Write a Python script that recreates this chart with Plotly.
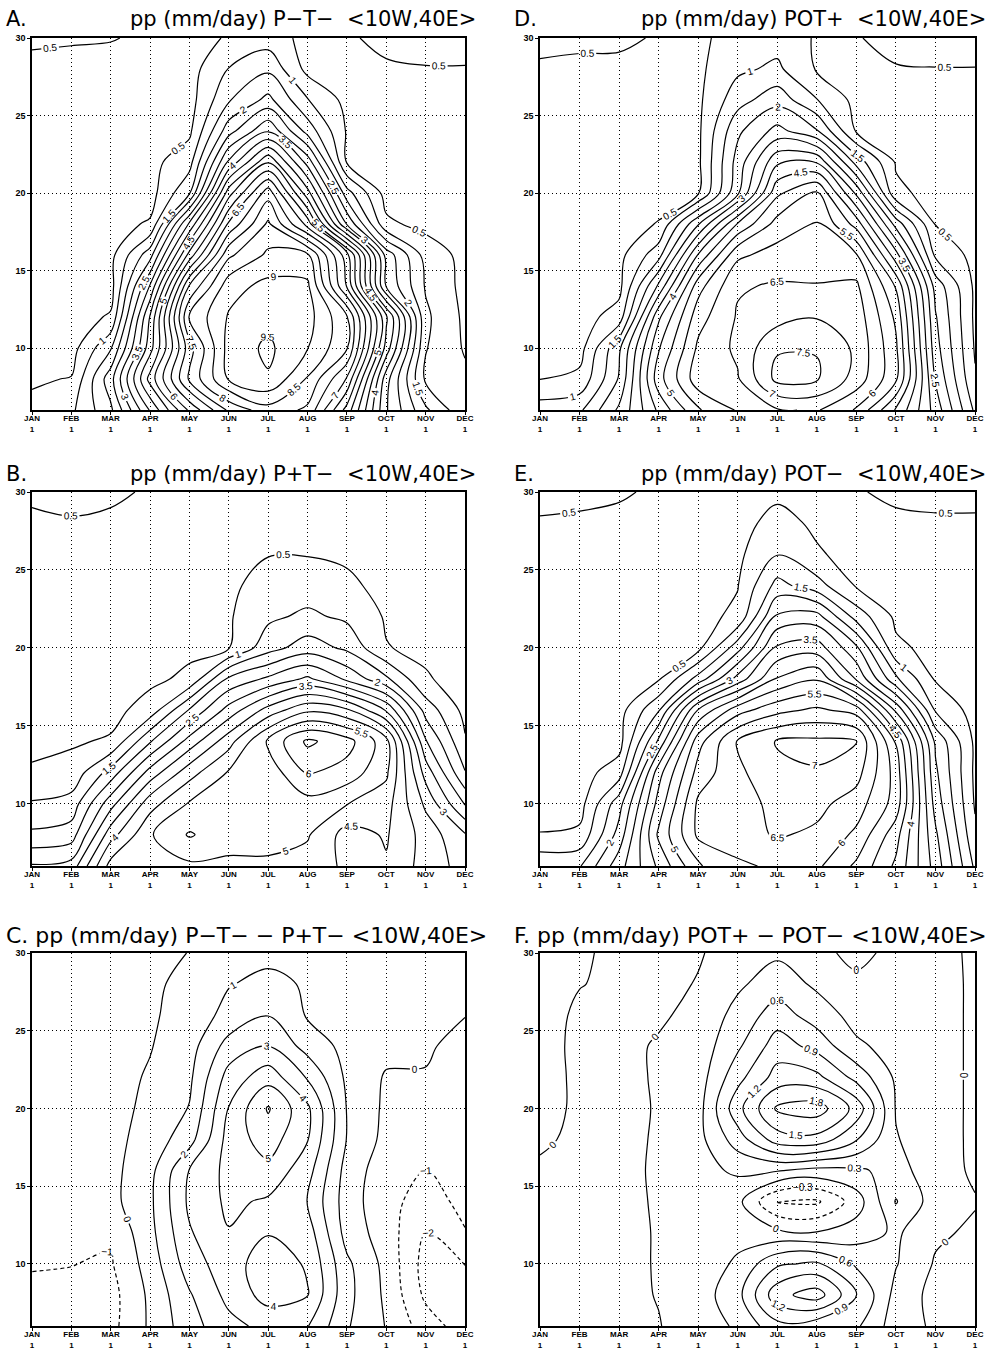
import plotly.graph_objects as go

# ---------------- data ----------------
months = ["JAN", "FEB", "MAR", "APR", "MAY", "JUN", "JUL", "AUG", "SEP", "OCT", "NOV", "DEC"]
month_pos = list(range(12))
lats = [30, 28, 26, 24, 22, 20, 18, 16, 14, 12, 10, 8, 6]   # rows listed north -> south
ytick_vals = [10, 15, 20, 25, 30]

# A. pp (mm/day) P-T-
pp_A = [
    [0.55, 0.55, 0.53, 0.40, 0.30, 0.55, 0.75, 0.35, 0.45, 0.60, 0.65, 0.65],
    [0.42, 0.35, 0.30, 0.30, 0.30, 1.02, 1.40, 0.35, 0.30, 0.45, 0.48, 0.48],
    [0.35, 0.30, 0.30, 0.30, 0.30, 1.45, 2.15, 1.03, 0.35, 0.35, 0.38, 0.40],
    [0.30, 0.30, 0.30, 0.30, 0.40, 2.30, 3.45, 1.80, 0.45, 0.35, 0.35, 0.38],
    [0.30, 0.30, 0.30, 0.35, 0.80, 3.60, 5.45, 3.30, 0.45, 0.35, 0.35, 0.35],
    [0.30, 0.30, 0.30, 0.30, 1.45, 5.30, 7.30, 4.70, 1.70, 0.30, 0.30, 0.30],
    [0.30, 0.30, 0.35, 0.55, 3.60, 6.60, 8.10, 6.30, 2.95, 0.60, 0.35, 0.30],
    [0.30, 0.30, 0.35, 1.80, 5.20, 7.90, 8.60, 8.60, 6.20, 2.30, 0.80, 0.35],
    [0.30, 0.30, 0.30, 3.05, 7.05, 8.80, 9.15, 9.10, 6.45, 2.45, 0.95, 0.35],
    [0.30, 0.30, 0.55, 4.05, 8.05, 9.05, 9.35, 9.20, 8.05, 4.60, 1.10, 0.40],
    [0.35, 0.30, 1.45, 4.30, 7.30, 9.20, 9.60, 9.02, 8.05, 4.30, 1.03, 0.45],
    [0.45, 0.52, 2.30, 5.20, 7.60, 9.05, 9.45, 8.45, 6.95, 3.20, 0.90, 0.60],
    [0.60, 0.90, 1.90, 4.05, 6.10, 7.60, 8.30, 7.90, 5.80, 3.05, 1.60, 0.60],
]

# B. pp (mm/day) P+T-
pp_B = [
    [0.55, 0.60, 0.58, 0.45, 0.40, 0.35, 0.30, 0.30, 0.30, 0.30, 0.30, 0.30],
    [0.45, 0.47, 0.42, 0.35, 0.35, 0.35, 0.35, 0.35, 0.35, 0.30, 0.30, 0.30],
    [0.35, 0.35, 0.35, 0.35, 0.35, 0.40, 0.48, 0.48, 0.42, 0.30, 0.30, 0.30],
    [0.30, 0.30, 0.30, 0.30, 0.35, 0.40, 0.70, 0.75, 0.60, 0.35, 0.30, 0.30],
    [0.30, 0.30, 0.30, 0.30, 0.35, 0.45, 0.90, 1.10, 0.90, 0.45, 0.30, 0.30],
    [0.30, 0.30, 0.30, 0.35, 0.40, 0.48, 1.30, 1.75, 1.40, 0.52, 0.40, 0.30],
    [0.30, 0.30, 0.30, 0.40, 0.60, 2.10, 2.60, 3.10, 2.40, 1.60, 0.55, 0.30],
    [0.30, 0.30, 0.35, 0.70, 2.05, 3.20, 4.20, 4.90, 4.60, 3.45, 1.30, 0.35],
    [0.40, 0.45, 0.55, 1.95, 3.20, 4.30, 5.60, 6.60, 6.20, 5.20, 2.05, 0.55],
    [0.55, 0.65, 1.70, 3.20, 4.30, 5.05, 5.20, 6.05, 5.80, 5.10, 2.80, 1.03],
    [1.05, 1.20, 2.80, 4.30, 5.05, 5.10, 5.10, 5.30, 5.02, 4.70, 3.40, 1.95],
    [1.60, 1.75, 3.80, 4.95, 5.55, 5.20, 5.10, 5.05, 4.30, 4.55, 3.80, 3.05],
    [2.55, 2.70, 4.70, 4.60, 4.90, 4.90, 4.95, 4.80, 4.40, 4.45, 3.80, 3.30],
]

# C. pp (mm/day) P-T- - P+T-
pp_C = [
    [-0.30, -0.30, -0.30, -0.25, 0.02, 0.50, 0.75, 0.60, 0.50, 0.40, 0.30, 0.20],
    [-0.30, -0.30, -0.30, -0.20, 0.30, 0.95, 1.25, 0.90, 0.60, 0.40, 0.30, 0.15],
    [-0.35, -0.35, -0.35, -0.15, 0.45, 1.30, 1.97, 0.90, 0.60, 0.35, 0.20, 0.02],
    [-0.40, -0.40, -0.40, -0.05, 0.60, 2.40, 3.05, 1.60, 0.70, 0.30, 0.10, -0.25],
    [-0.45, -0.40, -0.35, 0.10, 0.80, 3.40, 4.60, 2.90, 0.80, -0.10, -0.05, -0.35],
    [-0.50, -0.45, -0.30, 0.20, 1.05, 4.05, 6.10, 4.20, 0.95, -0.20, -0.40, -0.40],
    [-0.50, -0.50, -0.30, 0.40, 1.60, 4.40, 5.50, 4.05, 0.95, -0.30, -0.70, -0.50],
    [-0.60, -0.60, -0.30, 0.70, 3.05, 4.30, 4.70, 3.40, 0.60, -0.60, -1.03, -0.60],
    [-0.70, -0.70, -0.30, 0.80, 3.20, 4.20, 3.85, 2.95, 0.50, -0.70, -1.40, -0.75],
    [-0.80, -0.80, -0.85, 0.70, 2.90, 3.95, 3.95, 3.50, 0.60, -0.50, -2.05, -1.05],
    [-0.95, -0.98, -1.10, 0.45, 2.50, 3.60, 4.50, 3.90, 1.20, -0.30, -2.40, -1.98],
    [-1.15, -1.20, -1.35, 0.20, 1.90, 3.30, 4.40, 4.05, 1.30, -0.20, -2.20, -2.40],
    [-1.30, -1.40, -1.30, 0.15, 1.60, 2.70, 3.30, 3.05, 1.10, -0.05, -1.50, -2.50],
]

# D. pp (mm/day) POT+
pp_D = [
    [0.60, 0.58, 0.60, 0.45, 0.45, 0.60, 0.80, 0.45, 0.48, 0.60, 0.65, 0.65],
    [0.45, 0.42, 0.38, 0.30, 0.40, 0.90, 1.10, 0.45, 0.35, 0.48, 0.49, 0.49],
    [0.38, 0.35, 0.30, 0.30, 0.40, 1.30, 1.81, 1.02, 0.35, 0.35, 0.38, 0.40],
    [0.30, 0.30, 0.30, 0.30, 0.40, 1.90, 2.67, 2.05, 0.45, 0.35, 0.35, 0.35],
    [0.30, 0.30, 0.30, 0.35, 0.40, 2.20, 3.90, 3.95, 1.80, 0.45, 0.35, 0.35],
    [0.30, 0.30, 0.30, 0.35, 0.45, 2.40, 4.90, 5.55, 3.40, 0.60, 0.35, 0.30],
    [0.30, 0.30, 0.35, 0.52, 2.45, 4.55, 5.70, 6.05, 4.80, 2.30, 0.48, 0.30],
    [0.30, 0.30, 0.35, 1.30, 4.05, 5.90, 6.20, 6.30, 6.05, 3.70, 0.90, 0.35],
    [0.30, 0.30, 0.35, 2.60, 5.30, 6.45, 6.55, 6.52, 6.60, 4.95, 1.80, 0.40],
    [0.30, 0.30, 0.70, 3.90, 5.80, 6.55, 6.80, 6.97, 6.80, 5.40, 2.05, 0.40],
    [0.30, 0.30, 1.90, 4.45, 6.10, 6.60, 7.45, 7.48, 6.90, 5.60, 2.20, 0.45],
    [0.49, 0.62, 2.05, 4.80, 6.30, 6.45, 7.65, 7.55, 6.80, 5.60, 2.45, 0.55],
    [1.25, 1.40, 2.60, 4.10, 5.45, 6.05, 6.45, 6.55, 5.95, 4.45, 2.80, 0.90],
]

# E. pp (mm/day) POT-
pp_E = [
    [0.60, 0.58, 0.56, 0.42, 0.30, 0.35, 0.40, 0.35, 0.48, 0.55, 0.58, 0.58],
    [0.47, 0.45, 0.38, 0.30, 0.30, 0.35, 0.65, 0.42, 0.35, 0.45, 0.46, 0.46],
    [0.35, 0.33, 0.30, 0.30, 0.30, 0.40, 0.98, 0.55, 0.35, 0.35, 0.38, 0.40],
    [0.30, 0.30, 0.30, 0.30, 0.30, 0.48, 1.67, 1.20, 0.45, 0.35, 0.35, 0.35],
    [0.30, 0.30, 0.30, 0.30, 0.35, 0.60, 2.60, 2.70, 1.30, 0.40, 0.35, 0.35],
    [0.30, 0.30, 0.30, 0.35, 0.35, 1.80, 3.60, 3.75, 2.60, 0.60, 0.35, 0.30],
    [0.30, 0.30, 0.30, 0.45, 1.70, 3.20, 4.55, 4.95, 3.45, 1.60, 0.45, 0.30],
    [0.30, 0.30, 0.30, 1.45, 4.05, 5.30, 5.85, 6.10, 5.80, 3.40, 0.95, 0.30],
    [0.30, 0.30, 0.30, 2.60, 5.30, 6.55, 7.05, 7.10, 7.02, 4.95, 1.90, 0.40],
    [0.30, 0.30, 0.75, 3.80, 5.70, 6.40, 6.85, 6.97, 6.70, 5.30, 2.10, 0.40],
    [0.30, 0.30, 1.80, 4.20, 6.10, 6.35, 6.60, 6.65, 6.25, 5.30, 2.30, 0.45],
    [0.52, 0.60, 2.20, 4.60, 6.10, 6.30, 6.55, 6.40, 5.90, 4.70, 2.60, 0.60],
    [1.40, 1.45, 2.80, 4.10, 5.45, 5.90, 6.10, 6.10, 5.40, 4.40, 2.80, 0.90],
]

# F. pp (mm/day) POT+ - POT-
pp_F = [
    [0.10, 0.03, -0.05, -0.15, -0.03, 0.15, 0.25, 0.05, -0.05, 0.05, 0.10, -0.05],
    [0.12, 0.01, -0.05, -0.10, 0.02, 0.25, 0.45, 0.25, 0.04, 0.15, 0.12, -0.05],
    [0.12, -0.05, -0.08, -0.04, 0.08, 0.40, 0.75, 0.45, 0.20, 0.18, 0.12, -0.05],
    [0.10, -0.06, -0.08, 0.03, 0.12, 0.55, 1.05, 0.80, 0.35, 0.20, 0.12, -0.05],
    [0.08, -0.04, -0.08, 0.03, 0.15, 0.80, 1.32, 1.28, 0.80, 0.25, 0.12, -0.05],
    [0.06, -0.03, -0.08, 0.02, 0.18, 1.10, 1.85, 1.95, 1.40, 0.28, 0.12, -0.05],
    [0.03, -0.04, -0.08, 0.03, 0.20, 0.75, 1.35, 1.40, 0.92, 0.32, 0.12, -0.05],
    [-0.03, -0.05, -0.08, 0.04, 0.20, 0.35, 0.32, 0.20, 0.25, 0.40, 0.15, -0.05],
    [-0.08, -0.08, -0.08, 0.03, 0.12, 0.08, -0.62, -0.65, -0.15, 0.62, 0.15, 0.02],
    [-0.10, -0.10, -0.08, 0.02, 0.10, 0.20, 0.08, 0.02, 0.15, 0.35, 0.05, -0.05],
    [-0.10, -0.10, -0.08, 0.02, 0.12, 0.35, 0.85, 0.95, 0.55, 0.32, -0.03, -0.08],
    [-0.08, -0.08, -0.06, 0.01, 0.15, 0.50, 1.40, 1.65, 0.92, 0.20, -0.10, -0.08],
    [-0.05, -0.05, -0.05, -0.01, 0.12, 0.35, 0.80, 0.70, 0.65, 0.15, -0.05, -0.05],
]

# contour levels (start, end, step, dash) per panel; negatives drawn dashed
levels = {
    "A": [(0.5, 9.5, 0.5, "solid")],
    "B": [(0.5, 6.5, 0.5, "solid")],
    "C": [(0, 6, 1, "solid"), (-2, -1, 1, "4px,3px")],
    "D": [(0.5, 7.5, 0.5, "solid")],
    "E": [(0.5, 7.0, 0.5, "solid")],
    "F": [(0, 1.8, 0.3, "solid"), (-0.6, -0.3, 0.3, "4px,3px")],
}

titles = {
    "A": ("A.", "pp (mm/day) P\u2212T\u2212  <10W,40E>"),
    "D": ("D.", "pp (mm/day) POT+  <10W,40E>"),
    "B": ("B.", "pp (mm/day) P+T\u2212  <10W,40E>"),
    "E": ("E.", "pp (mm/day) POT\u2212  <10W,40E>"),
    "C": ("C.", "pp (mm/day) P\u2212T\u2212 \u2212 P+T\u2212 <10W,40E>"),
    "F": ("F.", "pp (mm/day) POT+ \u2212 POT\u2212 <10W,40E>"),
}

# ---------------- layout geometry (pixels of a 999x1349 page) ----------------
W, H = 999, 1349
col_px = [(32, 465), (540, 975)]
row_px = [(38, 410), (492, 866), (953, 1326)]
title_y_px = [19, 474, 935]
panels = [("A", 0, 0, pp_A), ("D", 0, 1, pp_D),
          ("B", 1, 0, pp_B), ("E", 1, 1, pp_E),
          ("C", 2, 0, pp_C), ("F", 2, 1, pp_F)]

lat_asc = lats[::-1]
TICKFONT = "Liberation Sans, Arial, sans-serif"
TITLEFONT = "DejaVu Sans, Liberation Sans, sans-serif"

fig = go.Figure()
layout = dict(width=W, height=H, margin=dict(l=0, r=0, t=0, b=0, pad=0),
              autosize=False,
              paper_bgcolor="white", plot_bgcolor="white", showlegend=False,
              annotations=[])

for k, (name, r, c, z) in enumerate(panels):
    idx = k + 1
    xa = "x" if idx == 1 else f"x{idx}"
    ya = "y" if idx == 1 else f"y{idx}"
    z_asc = z[::-1]
    for (s, e, step, dash) in levels[name]:
        fig.add_trace(go.Contour(
            x=month_pos, y=lat_asc, z=z_asc,
            xaxis=xa, yaxis=ya,
            contours=dict(start=s, end=e, size=step, coloring="none",
                          showlabels=True,
                          labelfont=dict(size=10, color="black", family=TICKFONT)),
            line=dict(color="black", width=1.2, dash=dash, smoothing=1.0),
            showscale=False, hoverinfo="skip"))
    x0, x1 = col_px[c]
    y0, y1 = row_px[r]
    axis_common = dict(showline=True, mirror=True, linecolor="black", linewidth=1.6,
                       showgrid=True, gridcolor="black", gridwidth=1, griddash="1px,3px",
                       zeroline=False, ticks="outside", ticklen=3, tickcolor="black",
                       automargin=False)
    layout["xaxis" + ("" if idx == 1 else str(idx))] = dict(
        domain=[x0 / W, x1 / W], range=[0, 11], anchor=ya,
        tickmode="array", tickvals=month_pos, ticklabelstandoff=-3,
        tickfont=dict(size=8, color="black", family=TICKFONT, weight="bold"),
        ticktext=[m + "<br>1" for m in months], **axis_common)
    layout["yaxis" + ("" if idx == 1 else str(idx))] = dict(
        domain=[1 - y1 / H, 1 - y0 / H], range=[6, 30], anchor=xa,
        tickmode="array", tickvals=ytick_vals,
        tickfont=dict(size=9, color="black", family=TICKFONT, weight="bold"),
        ticktext=[str(v) for v in ytick_vals], **axis_common)

    letter, text = titles[name]
    ty = 1 - title_y_px[r] / H
    if r < 2:
        layout["annotations"].append(dict(
            xref="paper", yref="paper", x=(x0 - 28) / W, y=ty, text=letter,
            showarrow=False, xanchor="left", yanchor="middle",
            font=dict(size=21, color="black", family=TITLEFONT)))
        layout["annotations"].append(dict(
            xref="paper", yref="paper", x=(x1 + 13) / W, y=ty, text=text,
            showarrow=False, xanchor="right", yanchor="middle",
            font=dict(size=21, color="black", family=TITLEFONT)))
    else:
        layout["annotations"].append(dict(
            xref="paper", yref="paper", x=(x0 - 28) / W, y=ty,
            text=letter + " " + text,
            showarrow=False, xanchor="left", yanchor="middle",
            font=dict(size=22, color="black", family=TITLEFONT)))

fig.update_layout(**layout)
fig.write_html("out.html",
               config={"displayModeBar": False, "responsive": False},
               post_script="document.body.style.margin='0px';document.body.style.overflow='hidden';")
